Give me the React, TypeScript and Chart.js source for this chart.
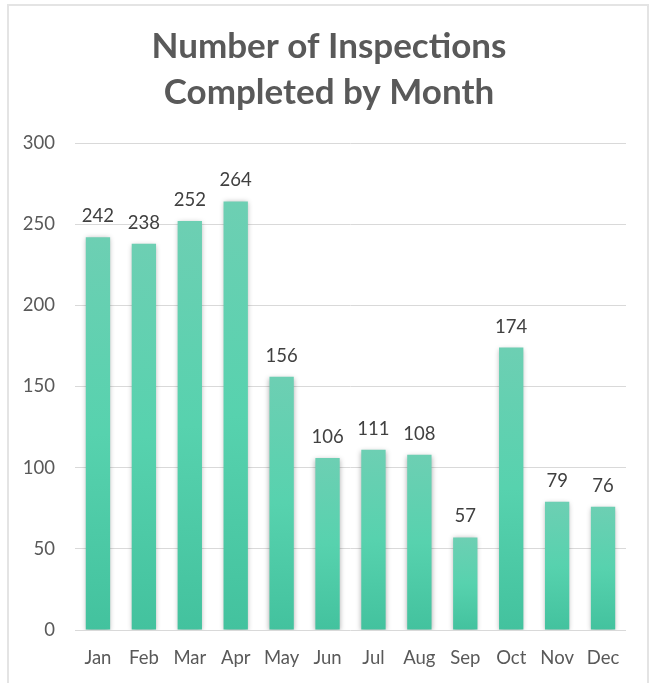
import React, { useEffect, useRef } from "react";
import { Chart, registerables } from "chart.js";

Chart.register(...registerables);

const months = ["Jan", "Feb", "Mar", "Apr", "May", "Jun", "Jul", "Aug", "Sep", "Oct", "Nov", "Dec"];
const inspections = [242, 238, 252, 264, 156, 106, 111, 108, 57, 174, 79, 76];
const titleLines = ["Number of Inspections", "Completed by Month"];
const yMin = 0;
const yMax = 300;
const yStep = 50;

const FONT = "Lato, 'Open Sans', sans-serif";

const titlePlugin = {
  id: "centeredTitle",
  afterDraw(chart: any) {
    const ctx = chart.ctx;
    ctx.save();
    ctx.font = `bold 35px ${FONT}`;
    ctx.fillStyle = "#595959";
    ctx.textAlign = "center";
    ctx.textBaseline = "middle";
    titleLines.forEach((line, i) => {
      ctx.fillText(line, 329, 47 + i * 46);
    });
    ctx.restore();
  },
};

const shadowPlugin = {
  id: "barShadow",
  beforeDatasetsDraw(chart: any) {
    const ctx = chart.ctx;
    ctx.save();
    ctx.shadowColor = "rgba(0,0,0,0.32)";
    ctx.shadowBlur = 5;
    ctx.shadowOffsetX = 0;
    ctx.shadowOffsetY = 1;
  },
  afterDatasetsDraw(chart: any) {
    const ctx = chart.ctx;
    ctx.restore();
    ctx.save();
    ctx.font = `18.5px ${FONT}`;
    ctx.fillStyle = "#404040";
    ctx.textAlign = "center";
    ctx.textBaseline = "alphabetic";
    const meta = chart.getDatasetMeta(0);
    const data = chart.data.datasets[0].data;
    meta.data.forEach((el: any, i: number) => {
      ctx.fillText(String(data[i]), el.x, el.y - 15);
    });
    ctx.restore();
  },
};

export default function App() {
  const ref = useRef<HTMLCanvasElement>(null);

  useEffect(() => {
    if (!ref.current) return;
    const chart = new Chart(ref.current, {
      type: "bar",
      data: {
        labels: months,
        datasets: [
          {
            data: inspections,
            backgroundColor: (c: any) => {
              const ch = c.chart;
              if (!ch.chartArea || !ch.scales || !ch.scales.y) return "#57cdaa";
              const ys = ch.scales.y;
              const top = ys.getPixelForValue(c.raw);
              const bottom = ys.getPixelForValue(0);
              if (!isFinite(top) || !isFinite(bottom) || top === bottom) return "#57cdaa";
              const g = ch.ctx.createLinearGradient(0, top, 0, bottom);
              g.addColorStop(0, "#6dcfb3");
              g.addColorStop(0.5, "#57d2ae");
              g.addColorStop(1, "#43c29e");
              return g;
            },
            borderWidth: 0,
            barPercentage: 0.53,
            categoryPercentage: 1,
          },
        ],
      },
      options: {
        responsive: false,
        animation: false,
        layout: { padding: { left: 0, right: 24, top: 143, bottom: 14 } },
        plugins: {
          legend: { display: false },
          tooltip: { enabled: false },
          title: { display: false },
        },
        scales: {
          y: {
            min: yMin,
            max: yMax,
            ticks: {
              stepSize: yStep,
              color: "#595959",
              font: { family: FONT, size: 18.5 },
              padding: 20,
            },
            grid: { color: "#d9d9d9", lineWidth: 1, drawTicks: false },
            border: { display: false },
            afterFit: (scale: any) => {
              scale.width = 75;
            },
          },
          x: {
            ticks: {
              color: "#595959",
              font: { family: FONT, size: 18.5 },
              padding: 17,
            },
            grid: { display: false, drawTicks: false },
            border: { display: false },
            afterFit: (scale: any) => {
              scale.height = 39;
            },
          },
        },
      },
      plugins: [shadowPlugin, titlePlugin],
    });
    return () => chart.destroy();
  }, []);

  return (
    <div
      style={{
        position: "fixed",
        left: 0,
        top: 0,
        width: 650,
        height: 683,
        overflow: "hidden",
        background: "#ffffff",
      }}
    >
      <div
        style={{
          position: "absolute",
          left: 7,
          top: 4,
          width: 642,
          height: 700,
          border: "2px solid #e4e4e4",
          boxSizing: "border-box",
        }}
      />
      <canvas
        ref={ref}
        width={650}
        height={683}
        style={{ position: "absolute", left: 0, top: 0, width: 650, height: 683 }}
      />
    </div>
  );
}
